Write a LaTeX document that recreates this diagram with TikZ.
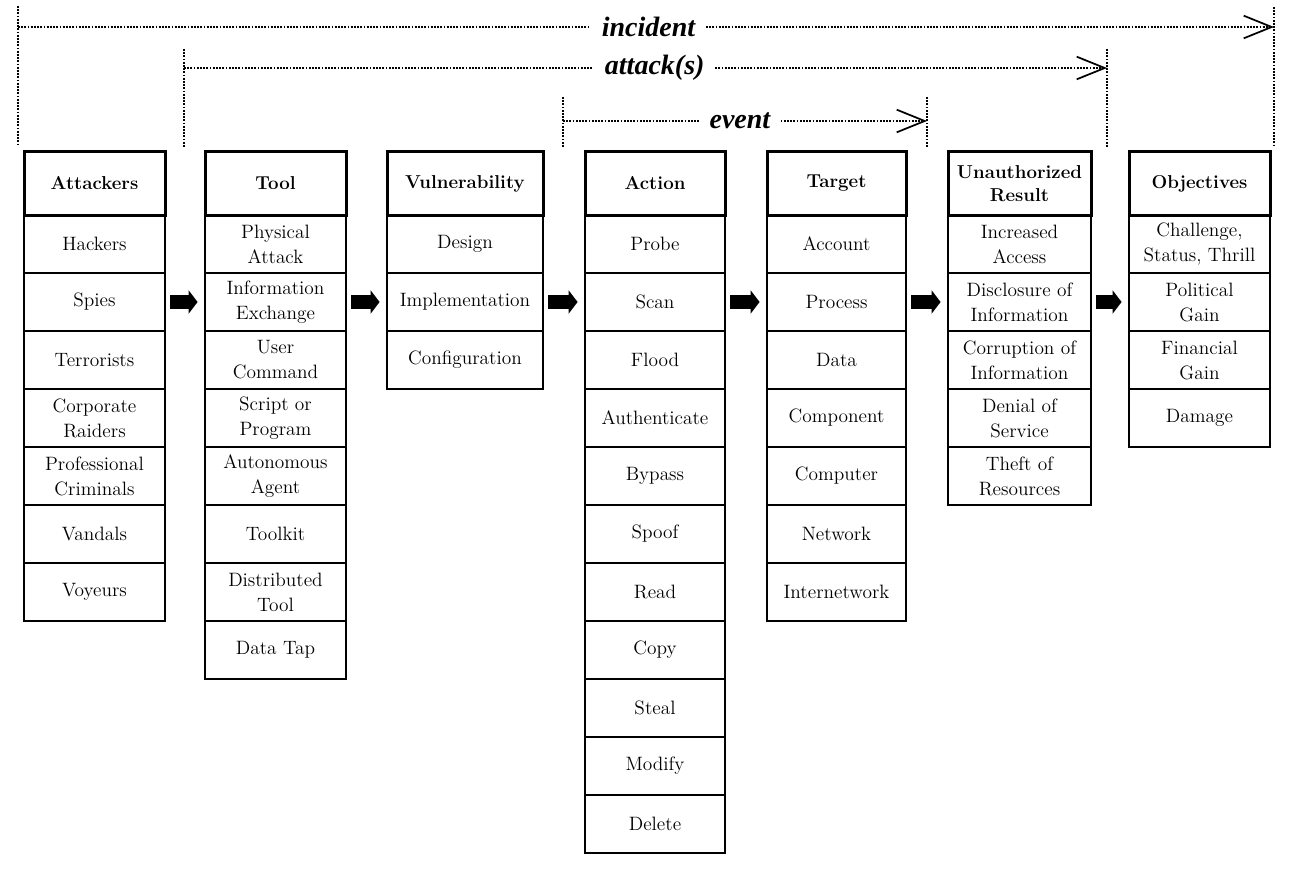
\documentclass[tikz,border=0pt]{standalone}
\usepackage{fontspec}
\newfontfamily\spanfont{Liberation Serif}
\usetikzlibrary{arrows.meta,positioning}

\tikzset{
  hdr/.style={draw, line width=2.25pt, align=center, inner sep=0pt,
    minimum height=47.25pt, font=\fontsize{14}{17.5}\selectfont\bfseries},
  cell/.style={draw, line width=1.1pt, align=center, inner sep=0pt,
    minimum height=43.5pt, font=\fontsize{14.5}{18.75}\selectfont},
  colw/.style={minimum width=#1*0.75pt},
  dots/.style={line width=1.4pt, dash pattern=on 1.4pt off 1pt},
  span/.style={dots, -{Straight Barb[length=21pt,width=17pt,line width=1.3pt]}},
  spanlbl/.style={fill=white, inner xsep=8pt, inner ysep=1pt,
    font=\fontsize{21}{24}\spanfont\bfseries\itshape},
  blk/.style={line width=10.5pt, -{Triangle[length=6.75pt,width=17.25pt]},
    shorten <=3.5pt, shorten >=5pt},
}

\begin{document}
\begin{tikzpicture}[x=0.75pt, y=-0.75pt]
  \useasboundingbox (0,0) rectangle (1297,881);

  % scopes along the top
  \coordinate (inc0) at (18,27);   \coordinate (inc1) at (1274,27);
  \coordinate (atk0) at (184,68);  \coordinate (atk1) at (1107,68);
  \coordinate (evt0) at (563,121); \coordinate (evt1) at (927,121);

  \draw[dots] (inc0) ++(0,-21) -- ++(0,140);
  \draw[dots] (inc1) ++(0,-20) -- ++(0,140);
  \draw[dots] (atk0) ++(0,-19) -- ++(0,98);
  \draw[dots] (atk1) ++(0,-19) -- ++(0,98);
  \draw[dots] (evt0) ++(0,-24) -- ++(0,50);
  \draw[dots] (evt1) ++(0,-24) -- ++(0,50);

  \draw[span] (inc0) -- node[spanlbl, pos=0.502] (inc) {incident} (inc1);
  \draw[span] (atk0) -- node[spanlbl, pos=0.51] (atk) {attack(s)} (atk1);
  \draw[span] (evt0) -- node[spanlbl, pos=0.486] (evt) {event} (evt1);

  % Attackers
  \foreach \t [count=\i] in {Hackers, Spies, Terrorists, Corporate\\Raiders,
      Professional\\Criminals, Vandals, Voyeurs}
    \node[cell, colw=141] (att\i) at (94.5, 186+58*\i) {\t};
  \node[hdr, colw=141] (att) at (94.5,183.5) {Attackers};

  % Tool
  \foreach \t [count=\i] in {Physical\\Attack, Information\\Exchange, User\\Command,
      Script or\\Program, Autonomous\\Agent, Toolkit, Distributed\\Tool, Data Tap}
    \node[cell, colw=141] (tool\i) at (275.5, 186+58*\i) {\t};
  \node[hdr, colw=141] (tool) at (275.5,183.5) {Tool};

  % Vulnerability
  \foreach \t [count=\i] in {Design, Implementation, Configuration}
    \node[cell, colw=156] (vul\i) at (465, 186+58*\i) {\t};
  \node[hdr, colw=156] (vul) at (465,183.5) {Vulnerability};

  % Action
  \foreach \t [count=\i] in {Probe, Scan, Flood, Authenticate, Bypass, Spoof,
      Read, Copy, Steal, Modify, Delete}
    \node[cell, colw=140] (act\i) at (655, 186+58*\i) {\t};
  \node[hdr, colw=140] (act) at (655,183.5) {Action};

  % Target
  \foreach \t [count=\i] in {Account, Process, Data, Component, Computer,
      Network, Internetwork}
    \node[cell, colw=139] (tgt\i) at (836.5, 186+58*\i) {\t};
  \node[hdr, colw=139] (tgt) at (836.5,183.5) {Target};

  % Unauthorized Result
  \foreach \t [count=\i] in {Increased\\Access, Disclosure of\\Information,
      Corruption of\\Information, Denial of\\Service, Theft of\\Resources}
    \node[cell, colw=143] (res\i) at (1019.5, 186+58*\i) {\t};
  \node[hdr, colw=143] (res) at (1019.5,183.5) {Unauthorized\\Result};

  % Objectives
  \foreach \t [count=\i] in {{Challenge,\\Status, Thrill}, Political\\Gain,
      Financial\\Gain, Damage}
    \node[cell, colw=141] (obj\i) at (1199.5, 186+58*\i) {\t};
  \node[hdr, colw=141] (obj) at (1199.5,183.5) {Objectives};

  % block arrows between the columns
  \draw[blk] (att2) -- (tool2);
  \draw[blk] (tool2) -- (vul2);
  \draw[blk] (vul2) -- (act2);
  \draw[blk] (act2) -- (tgt2);
  \draw[blk] (tgt2) -- (res2);
  \draw[blk] (res2) -- (obj2);
\end{tikzpicture}
\end{document}
